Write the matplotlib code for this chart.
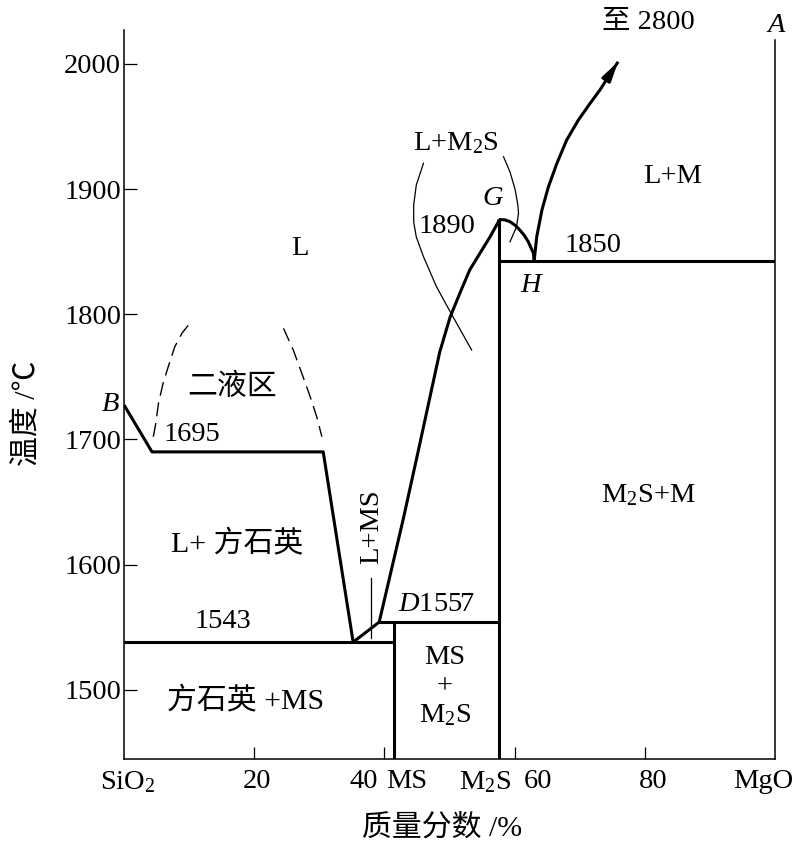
import matplotlib.pyplot as plt

plt.rcParams['font.family'] = ['Liberation Serif', 'Noto Sans CJK SC']
plt.rcParams['mathtext.fontset'] = 'custom'
plt.rcParams['mathtext.rm'] = 'Liberation Serif'
plt.rcParams['mathtext.it'] = 'Liberation Serif:italic'

# axis range (wt% MgO, temperature in C)
x_min, x_max = 0, 100
t_min, t_max = 1444.6, 2027.1

# liquidus on the SiO2 side: B -> 1695 -> eutectic 1543 -> D -> G
liq_x = [0, 4.3, 30.6, 35.2, 39.2, 42.9, 45.2, 47.0, 48.5, 50.1, 51.6, 53.1,
         54.7, 56.2, 57.5, 57.6]
liq_t = [1727.5, 1690, 1690, 1538, 1554, 1636.4, 1690.7, 1733.9, 1769.8, 1797.8,
         1816.9, 1835.3, 1848.9, 1861.6, 1873.7, 1875.7]

# G -> H dome
dome_x = [57.6, 58.5, 59.3, 60.1, 60.8, 61.5, 62.1, 62.5, 62.9, 63.0]
dome_t = [1875.7, 1875.4, 1873.9, 1871.0, 1867.3, 1862.9, 1857.9, 1853.3, 1848.7, 1842.5]

# H -> towards 2800 (MgO liquidus)
mgo_x = [63.0, 63.4, 64.2, 65.2, 66.5, 68.0, 69.8, 71.6, 73.1, 74.4, 75.9]
mgo_t = [1842.5, 1861.9, 1883.3, 1901.9, 1920.6, 1939.2, 1955.2, 1968.5, 1979.1,
         1989.8, 2001.7]

# isotherms
eut_x, eut_t = [0, 41.5], 1538       # 1543
d_x, d_t = [39.2, 57.6], 1554        # D1557
h_x, h_t = [57.6, 100], 1842.5       # 1850

# compounds
ms_x, ms_top = 41.5, 1554
m2s_x, m2s_top = 57.6, 1875.7

# thin arcs around L+M2S
arc1_x = [46.0, 44.9, 44.5, 44.5, 44.9, 46.0, 48.0, 50.1, 53.4]
arc1_t = [1920.6, 1903.2, 1887.3, 1873.7, 1861.7, 1846.0, 1822.0, 1802.0, 1771.4]
arc2_x = [58.3, 59.3, 60.1, 60.5, 60.6, 60.3, 59.3]
arc2_t = [1925.8, 1913.6, 1899.2, 1887.3, 1880.6, 1869.9, 1857.9]

# two-liquid region (dashed)
dl_x = [4.5, 4.8, 5.3, 6.0, 6.8, 7.8, 8.9, 10.1]
dl_t = [1702.1, 1710.1, 1728.8, 1744.8, 1758.1, 1774.0, 1784.8, 1792.7]
dr_x = [24.5, 26.0, 27.5, 28.6, 29.6, 30.4]
dr_t = [1788.7, 1771.4, 1750.1, 1734.1, 1718.1, 1702.1]

# leader for L+MS
lead_x = 37.9
lead_t = [1541.3, 1589.3]

yticks = [1500, 1600, 1700, 1800, 1900, 2000]
xticks = [20, 40, 60, 80]

fig = plt.figure(figsize=(7.95, 8.43), dpi=100)
ax = fig.add_axes([124 / 795, 84 / 843, 651 / 795, 729 / 843])
ax.set_xlim(x_min, x_max)
ax.set_ylim(t_min, t_max)

thick = dict(color='black', lw=2.2, solid_capstyle='butt', solid_joinstyle='round')
thin = dict(color='black', lw=0.9)

ax.plot(liq_x, liq_t, **thick)
ax.plot(dome_x, dome_t, **thick)
ax.plot(mgo_x, mgo_t, **thick)
ax.annotate('', xy=(mgo_x[-1], mgo_t[-1]), xytext=(mgo_x[-2], mgo_t[-2]),
            arrowprops=dict(arrowstyle='-|>,head_length=0.8,head_width=0.2',
                            color='black', lw=2.2, mutation_scale=14,
                            shrinkA=0, shrinkB=0))
ax.plot(eut_x, [eut_t, eut_t], **thick)
ax.plot(d_x, [d_t, d_t], **thick)
ax.plot(h_x, [h_t, h_t], **thick)
ax.plot([ms_x, ms_x], [ms_top, t_min], **thick)
ax.plot([m2s_x, m2s_x], [m2s_top, t_min], **thick)

ax.plot(arc1_x, arc1_t, **thin)
ax.plot(arc2_x, arc2_t, **thin)
ax.plot(dl_x, dl_t, color='black', lw=1.0, dashes=(10, 5))
ax.plot(dr_x, dr_t, color='black', lw=1.0, dashes=(10, 5))
ax.plot([lead_x, lead_x], lead_t, **thin)

# spines and ticks
ax.spines['top'].set_visible(False)
ax.spines['right'].set_bounds(t_min, 2019)
for s in ['left', 'bottom', 'right']:
    ax.spines[s].set_linewidth(1.1)
ax.set_yticks(yticks)
ax.set_yticklabels([str(v) for v in yticks])
ax.set_xticks(xticks)
ax.set_xticklabels([])
ax.tick_params(direction='in', length=9.5, width=0.9, labelsize=20.5, pad=2)
ax.tick_params(axis='x', length=9)

fs = 20.5
fc = 21.5
trans = ax.get_xaxis_transform()
xlab = ['SiO$_\\mathrm{2}$', '20', '40', 'MS', 'M$_\\mathrm{2}$S', '60', '80']
xlab_pos = [0.6, 20.5, 36.9, 43.4, 55.5, 63.6, 81.3]
for lab, p in zip(xlab, xlab_pos):
    ax.text(p, -0.014, lab, transform=trans, ha='center', va='top', fontsize=fs)
ax.text(102.8, -0.014, 'MgO', transform=trans, ha='right', va='top', fontsize=fs)

fig.text(442 / 795, 1 - 828 / 843, '质量分数 /%', ha='center', va='center', fontsize=fc)
fig.text(27 / 795, 1 - 413 / 843, '温度 /℃', ha='center', va='center',
         rotation=90, fontsize=fc)

# region and point labels
ax.text(80.5, 2033.5, '至 2800', ha='center', va='center', fontsize=fs)
ax.text(100.2, 2031, 'A', ha='center', va='center', fontsize=fs, style='italic')
ax.text(51.0, 1936.8, 'L+M$_\\mathrm{2}$S', ha='center', va='center', fontsize=fs)
ax.text(56.7, 1892.8, 'G', ha='center', va='center', fontsize=fs, style='italic')
ax.text(49.6, 1869.7, '1890', ha='center', va='center', fontsize=fs)
ax.text(72.0, 1855.3, '1850', ha='center', va='center', fontsize=fs)
ax.text(62.4, 1823.3, 'H', ha='center', va='center', fontsize=fs, style='italic')
ax.text(84.3, 1910.4, 'L+M', ha='center', va='center', fontsize=fs)
ax.text(27.0, 1852.9, 'L', ha='center', va='center', fontsize=fs)
ax.text(16.6, 1741.9, '二液区', ha='center', va='center', fontsize=fc)
ax.text(-2.15, 1727.5, 'B', ha='center', va='center', fontsize=fs, style='italic')
ax.text(10.4, 1703.5, '1695', ha='center', va='center', fontsize=fs)
ax.text(17.4, 1617.2, 'L+ 方石英', ha='center', va='center', fontsize=fc)
ax.text(15.2, 1554.1, '1543', ha='center', va='center', fontsize=fs)
ax.text(18.6, 1491.8, '方石英 +MS', ha='center', va='center', fontsize=fc)
ax.text(48.1, 1567.7, '$\\mathit{D}$1557', ha='center', va='center', fontsize=fs)
ax.text(49.3, 1526.1, 'MS', ha='center', va='center', fontsize=fs)
ax.text(49.3, 1502.1, '+', ha='center', va='center', fontsize=fs)
ax.text(49.3, 1479.7, 'M$_\\mathrm{2}$S', ha='center', va='center', fontsize=fs)
ax.text(80.5, 1655.6, 'M$_\\mathrm{2}$S+M', ha='center', va='center', fontsize=fs)
ax.text(38.1, 1630.0, 'L+MS', ha='center', va='center', fontsize=fs, rotation=90)

fig.savefig('out.png', dpi=100)
